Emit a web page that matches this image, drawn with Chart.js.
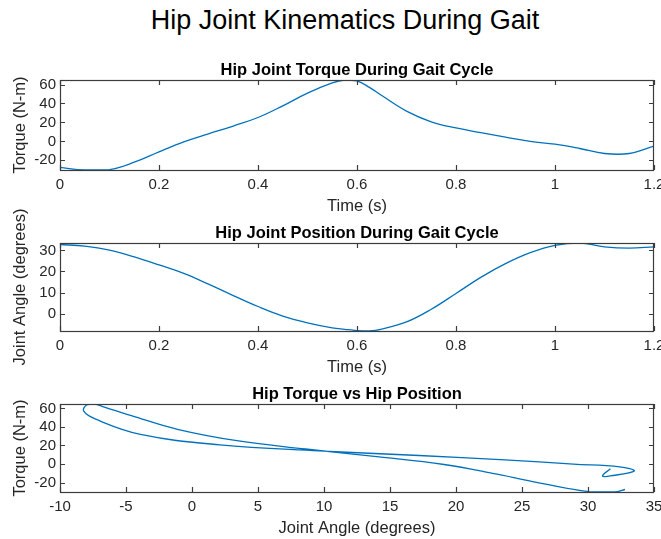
<!DOCTYPE html>
<html>
<head>
<meta charset="utf-8">
<script src="https://cdn.jsdelivr.net/npm/chart.js@4"></script>
<style>
  html, body { margin: 0; padding: 0; background: #fff; }
  #fig { position: relative; width: 661px; height: 539px; overflow: hidden; background: #fff; }
  #fig canvas { position: absolute; left: 0; top: 0; }
  #suptitle {
    position: absolute; left: 0; top: 4px; width: 690px; text-align: center;
    font: 27px "Liberation Sans", Arial, sans-serif; line-height: 32px; color: #000;
  }
</style>
</head>
<body>
<div id="fig">
  <div id="suptitle">Hip Joint Kinematics During Gait</div>
  <canvas id="torqueChart" width="661" height="539"></canvas>
  <canvas id="angleChart" width="661" height="539"></canvas>
  <canvas id="loopChart" width="661" height="539"></canvas>
</div>
<script>
  // gait cycle samples (s), denser around the torque peak / angle minimum
  const time = [0, 0.05, 0.1, 0.15, 0.2, 0.25, 0.3, 0.35, 0.4, 0.45, 0.5, 0.55, 0.575, 0.6, 0.625,
                0.65, 0.7, 0.75, 0.8, 0.85, 0.9, 0.95, 1.0, 1.05, 1.1, 1.15, 1.2];
  // hip torque (N-m)
  const hipTorque = [-27.5, -30.2, -29.8, -22, -11, -0.5, 8, 16.2, 25.2, 37.5, 51, 61.8, 64.8, 63.8, 57,
                     48.4, 32, 20.7, 14.2, 9.2, 4.5, 0, -3, -7.5, -12.8, -12.8, -5];
  // hip joint angle (degrees)
  const hipAngle = [32.8, 32.0, 30.1, 26.9, 23.1, 19.1, 14, 8.6, 3.4, -1.1, -4.3, -6.7, -7.4, -8, -8.2,
                    -7.3, -3.9, 2.1, 9.6, 17.2, 23.7, 28.9, 32.4, 33.5, 31.7, 31.1, 31.7];

  const timeTicks = [0, 0.2, 0.4, 0.6, 0.8, 1, 1.2];
  const torqueTicks = [-20, 0, 20, 40, 60];
  const angleTicks = [0, 10, 20, 30];
  const angleAxisTicks = [-10, -5, 0, 5, 10, 15, 20, 25, 30, 35];

  const FONT = '"Liberation Sans", Arial, sans-serif';
  const INK = '#262626';
  const BLUE = '#0072BD';
  Chart.defaults.font.family = FONT;
  Chart.defaults.color = INK;

  const tickFont = { size: 15 };
  const labelFont = { size: 16.5 };
  const titleFont = { size: 16.5, weight: 'bold', lineHeight: 1.2 };

  // box around the plot area with inward tick marks on all four sides
  const boxAxes = {
    id: 'boxAxes',
    afterDraw(chart) {
      const { ctx, chartArea: a, scales } = chart;
      const len = 5;
      ctx.save();
      ctx.strokeStyle = '#3c3c3c';
      ctx.lineWidth = 1.2;
      ctx.beginPath();
      scales.x.ticks.forEach(t => {
        const px = Math.round(scales.x.getPixelForValue(t.value)) + 0.5;
        ctx.moveTo(px, a.bottom); ctx.lineTo(px, a.bottom - len);
        ctx.moveTo(px, a.top); ctx.lineTo(px, a.top + len);
      });
      scales.y.ticks.forEach(t => {
        const py = Math.round(scales.y.getPixelForValue(t.value)) + 0.5;
        ctx.moveTo(a.left, py); ctx.lineTo(a.left + len, py);
        ctx.moveTo(a.right, py); ctx.lineTo(a.right - len, py);
      });
      ctx.stroke();
      ctx.strokeRect(Math.round(a.left) + 0.5, Math.round(a.top) + 0.5,
                     Math.round(a.right - a.left) - 1, Math.round(a.bottom - a.top));
      ctx.restore();
    }
  };

  // rotated y label, drawn without width squeezing so long labels keep their size
  function yLabel(text) {
    return {
      id: 'yLabel',
      afterDraw(chart) {
        const { ctx, chartArea: a } = chart;
        ctx.save();
        ctx.translate(20, (a.top + a.bottom) / 2);
        ctx.rotate(-Math.PI / 2);
        ctx.font = labelFont.size + 'px ' + FONT;
        ctx.fillStyle = INK;
        ctx.textAlign = 'center';
        ctx.textBaseline = 'middle';
        ctx.fillText(text, 0, 0);
        ctx.restore();
      }
    };
  }

  function makeChart(id, opts) {
    const titleH = titleFont.size * titleFont.lineHeight;
    return new Chart(document.getElementById(id), {
      type: 'scatter',
      data: {
        datasets: [{
          data: opts.points,
          showLine: true,
          borderColor: BLUE,
          borderWidth: 1.3,
          pointRadius: 0,
          tension: 0.4,
          fill: false
        }]
      },
      options: {
        responsive: false,
        animation: false,
        events: [],
        layout: {
          padding: { left: 0, right: 7, top: opts.top - titleH, bottom: 539 - opts.bottom - 46 }
        },
        plugins: {
          legend: { display: false },
          tooltip: { enabled: false },
          title: {
            display: true,
            text: opts.title,
            fullSize: false,
            color: '#000',
            font: titleFont,
            padding: { top: 0, bottom: 0 }
          }
        },
        scales: {
          x: {
            type: 'linear',
            min: opts.xMin,
            max: opts.xMax,
            grid: { display: false, drawTicks: false },
            border: { display: false },
            ticks: { font: tickFont, color: INK, padding: 6, maxRotation: 0, autoSkip: false,
                      callback: v => String(v) },
            afterBuildTicks: s => { s.ticks = opts.xTicks.map(v => ({ value: v })); },
            afterFit: s => { s.height = 46; s.paddingLeft = 0; s.paddingRight = 0; },
            title: { display: true, text: opts.xTitle, font: labelFont, color: INK,
                     padding: { top: 0, bottom: 0 } }
          },
          y: {
            min: opts.yMin,
            max: opts.yMax,
            grid: { display: false, drawTicks: false },
            border: { display: false },
            ticks: { font: tickFont, color: INK, padding: 4, autoSkip: false,
                     callback: v => String(v) },
            afterBuildTicks: s => { s.ticks = opts.yTicks.map(v => ({ value: v })); },
            afterFit: s => { s.width = 60; s.paddingTop = 0; s.paddingBottom = 0; }
          }
        }
      },
      plugins: [boxAxes, yLabel(opts.yTitle)]
    });
  }

  const torqueMin = Math.min(...hipTorque), torqueMax = Math.max(...hipTorque);
  const angleMin = Math.min(...hipAngle), angleMax = Math.max(...hipAngle);

  makeChart('torqueChart', {
    title: 'Hip Joint Torque During Gait Cycle',
    points: time.map((t, i) => ({ x: t, y: hipTorque[i] })),
    top: 80, bottom: 170,
    xMin: 0, xMax: 1.2, xTicks: timeTicks, xTitle: 'Time (s)',
    yMin: torqueMin, yMax: torqueMax, yTicks: torqueTicks, yTitle: 'Torque (N-m)'
  });

  makeChart('angleChart', {
    title: 'Hip Joint Position During Gait Cycle',
    points: time.map((t, i) => ({ x: t, y: hipAngle[i] })),
    top: 243, bottom: 331,
    xMin: 0, xMax: 1.2, xTicks: timeTicks, xTitle: 'Time (s)',
    yMin: angleMin, yMax: angleMax, yTicks: angleTicks, yTitle: 'Joint Angle (degrees)'
  });

  makeChart('loopChart', {
    title: 'Hip Torque vs Hip Position',
    points: hipAngle.map((a, i) => ({ x: a, y: hipTorque[i] })),
    top: 404, bottom: 492,
    xMin: -10, xMax: 35, xTicks: angleAxisTicks, xTitle: 'Joint Angle (degrees)',
    yMin: torqueMin, yMax: torqueMax, yTicks: torqueTicks, yTitle: 'Torque (N-m)'
  });
</script>
</body>
</html>
